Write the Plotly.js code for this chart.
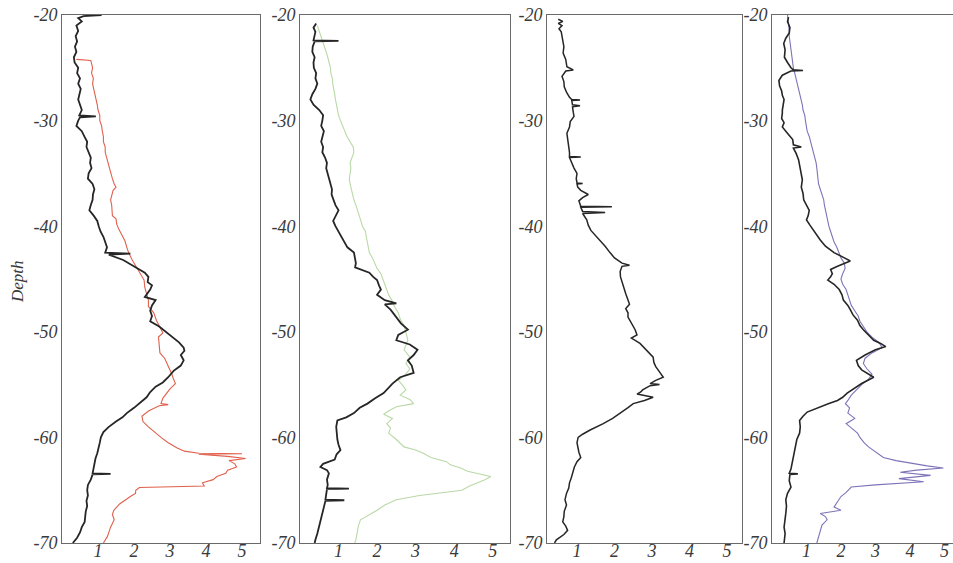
<!DOCTYPE html>
<html>
<head>
<meta charset="utf-8">
<script src="https://cdn.plot.ly/plotly-3.0.1.min.js"></script>
<style>html,body{margin:0;padding:0;background:#fff;}#chart{width:953px;height:563px;}</style>
</head>
<body>
<div id="chart"></div>
<script>
// ---- Data: [depth, value] pairs ----
const depthTicks = [-20, -30, -40, -50, -60, -70];
const depthTickLabels = ["-20", "-30", "-40", "-50", "-60", "-70"];
const xTicks = [1, 2, 3, 4, 5];
const xTickLabels = ["1", "2", "3", "4", "5"];
const yTitle = "Depth";

const p1Black = [[-20.0,1.1],[-20.1,0.6],[-20.3,0.45],[-20.6,0.55],[-21,0.4],[-21.5,0.45],[-22,0.38],[-22.5,0.42],[-23,0.36],[-23.5,0.4],[-24,0.33],[-24.5,0.35],[-25,0.45],[-25.5,0.42],[-26,0.5],[-26.5,0.45],[-27,0.52],[-27.5,0.48],[-28,0.45],[-28.5,0.5],[-29,0.55],[-29.5,0.48],[-29.6,0.94],[-29.7,0.5],[-30,0.45],[-30.5,0.4],[-31,0.55],[-31.5,0.62],[-32,0.7],[-32.5,0.68],[-33,0.75],[-33.5,0.8],[-34,0.78],[-34.5,0.82],[-35,0.74],[-35.5,0.72],[-36,0.85],[-36.5,0.9],[-37,0.86],[-37.5,0.85],[-38,0.8],[-38.5,0.76],[-39,0.88],[-39.5,0.98],[-40,1.02],[-40.5,1.07],[-41,1.15],[-41.5,1.2],[-42,1.25],[-42.5,1.2],[-42.6,1.9],[-42.7,1.3],[-43.2,1.7],[-43.6,1.9],[-44,2.1],[-44.4,2.3],[-44.8,2.4],[-45.3,2.38],[-45.6,2.5],[-46,2.45],[-46.7,2.3],[-47,2.6],[-47.5,2.5],[-48,2.45],[-48.5,2.5],[-49,2.45],[-49.5,2.7],[-50,2.88],[-50.5,3.05],[-51,3.25],[-51.5,3.38],[-51.8,3.4],[-52.2,3.3],[-52.7,3.38],[-53.2,3.3],[-53.7,3.1],[-54.3,2.95],[-54.8,2.8],[-55.2,2.6],[-55.7,2.45],[-56.2,2.35],[-56.8,2.15],[-57.2,2.0],[-57.7,1.8],[-58.1,1.68],[-58.5,1.5],[-59,1.3],[-59.5,1.15],[-60,1.08],[-60.5,1.05],[-61,1.02],[-61.5,0.98],[-62,0.93],[-62.5,0.9],[-63,0.87],[-63.4,0.85],[-63.45,1.35],[-63.5,0.85],[-64,0.8],[-64.5,0.72],[-65,0.7],[-65.5,0.72],[-66,0.68],[-66.5,0.7],[-67,0.66],[-67.5,0.65],[-68,0.63],[-68.5,0.55],[-69,0.5],[-69.5,0.42],[-70,0.3]];

const p1Red = [[-24.2,0.4],[-24.3,0.8],[-25,0.85],[-25.5,0.82],[-26,0.87],[-26.5,0.85],[-27,0.88],[-27.5,0.92],[-28,0.95],[-28.5,0.98],[-29,1.0],[-29.5,1.05],[-30,1.05],[-30.5,1.1],[-31,1.12],[-31.5,1.15],[-32,1.15],[-32.5,1.2],[-33,1.2],[-33.5,1.25],[-34,1.28],[-34.5,1.32],[-35,1.35],[-35.5,1.4],[-36,1.45],[-36.3,1.5],[-36.6,1.42],[-37,1.38],[-37.5,1.35],[-38,1.38],[-38.5,1.38],[-39,1.4],[-39.3,1.5],[-39.8,1.52],[-40.3,1.58],[-40.8,1.65],[-41.4,1.75],[-42,1.8],[-42.5,1.85],[-43.2,1.95],[-43.8,2.05],[-44.4,2.15],[-45.1,2.28],[-45.8,2.3],[-46.5,2.35],[-47,2.4],[-47.6,2.4],[-48.2,2.55],[-48.9,2.62],[-49.5,2.72],[-50.1,2.8],[-50.5,2.68],[-51,2.7],[-51.5,2.72],[-52,2.72],[-52.5,2.85],[-53,2.92],[-53.5,2.98],[-54,3.05],[-54.5,3.1],[-54.9,3.15],[-55.4,3.0],[-55.8,2.9],[-56.3,2.8],[-56.8,2.75],[-56.9,2.95],[-57,2.7],[-57.5,2.4],[-58,2.22],[-58.5,2.25],[-59,2.4],[-59.6,2.6],[-60,2.75],[-60.5,2.95],[-61,3.2],[-61.3,3.4],[-61.5,3.8],[-61.55,5.0],[-61.6,3.8],[-61.8,4.6],[-62,5.1],[-62.2,4.64],[-62.5,4.8],[-62.8,4.85],[-63.1,4.6],[-63.4,4.55],[-63.7,4.3],[-64,4.2],[-64.3,3.9],[-64.6,3.95],[-64.75,2.15],[-65,2.05],[-65.3,2.04],[-65.6,1.9],[-65.9,1.77],[-66.3,1.6],[-66.9,1.44],[-67.3,1.4],[-67.8,1.45],[-68.2,1.38],[-68.5,1.35],[-69,1.3],[-69.4,1.26],[-70,1.15]];

const p2Black = [[-20.8,0.42],[-21.2,0.35],[-21.6,0.4],[-22,0.38],[-22.4,0.35],[-22.45,1.0],[-22.5,0.38],[-23,0.33],[-23.5,0.32],[-24,0.38],[-24.5,0.35],[-25,0.36],[-25.5,0.42],[-26,0.4],[-26.5,0.45],[-27,0.4],[-27.5,0.32],[-28,0.27],[-28.5,0.35],[-29,0.5],[-29.5,0.6],[-30,0.58],[-30.5,0.55],[-31,0.62],[-31.5,0.58],[-32,0.55],[-32.5,0.6],[-33,0.58],[-33.5,0.65],[-34,0.7],[-34.5,0.68],[-35,0.72],[-35.5,0.75],[-36,0.8],[-36.5,0.83],[-37,0.82],[-37.5,0.86],[-38,0.92],[-38.5,1.0],[-39,0.92],[-39.5,0.86],[-40,0.92],[-40.5,1.0],[-41,1.08],[-41.5,1.15],[-42,1.23],[-42.5,1.4],[-43,1.42],[-43.5,1.45],[-43.9,1.43],[-44.4,1.8],[-44.8,1.9],[-45.1,2.0],[-45.6,2.05],[-46,2.1],[-46.5,2.0],[-47,2.2],[-47.3,2.5],[-47.4,2.2],[-47.9,2.35],[-48.6,2.5],[-49.2,2.62],[-49.8,2.8],[-50.3,2.55],[-50.8,2.5],[-51.2,2.85],[-51.7,3.05],[-52.2,2.95],[-52.7,2.8],[-53.2,2.9],[-53.9,2.95],[-54.3,2.6],[-54.9,2.4],[-55.3,2.3],[-55.8,2.17],[-56.3,1.95],[-56.8,1.75],[-57.2,1.55],[-57.7,1.4],[-58.1,1.2],[-58.4,0.97],[-59,0.94],[-59.6,0.95],[-60.2,0.97],[-60.7,1.0],[-61.2,1.05],[-61.6,0.95],[-62.1,0.9],[-62.5,0.6],[-62.8,0.53],[-63.1,0.7],[-63.4,0.75],[-64,0.7],[-64.5,0.72],[-64.8,0.7],[-64.85,1.27],[-64.9,0.7],[-65.4,0.68],[-65.9,0.66],[-65.95,1.15],[-66,0.66],[-66.6,0.62],[-67.2,0.58],[-67.8,0.55],[-68.5,0.5],[-69.1,0.45],[-69.7,0.4],[-70,0.38]];

const p2Green = [[-21,0.45],[-21.5,0.5],[-22,0.55],[-22.5,0.6],[-23,0.63],[-23.5,0.68],[-24,0.72],[-24.5,0.75],[-25,0.79],[-25.5,0.8],[-26,0.84],[-26.5,0.85],[-27,0.88],[-27.5,0.9],[-28,0.92],[-28.5,0.95],[-29,0.97],[-29.5,1.0],[-30,1.05],[-30.5,1.1],[-31,1.15],[-31.5,1.22],[-32,1.3],[-32.5,1.38],[-33,1.4],[-33.5,1.35],[-34,1.3],[-34.5,1.32],[-35,1.3],[-35.5,1.28],[-36,1.3],[-36.5,1.33],[-37,1.38],[-37.5,1.4],[-38,1.45],[-38.5,1.5],[-39,1.55],[-39.5,1.58],[-40,1.62],[-40.5,1.7],[-41,1.72],[-41.5,1.75],[-42,1.78],[-42.5,1.8],[-43,1.88],[-43.5,1.95],[-44,2.0],[-44.5,2.1],[-45,2.15],[-45.5,2.2],[-46,2.25],[-46.5,2.3],[-47,2.38],[-47.6,2.45],[-48.2,2.55],[-48.8,2.6],[-49.4,2.7],[-50,2.75],[-50.8,2.8],[-51.7,2.7],[-52.4,2.85],[-53,2.75],[-53.5,2.85],[-54,2.75],[-54.6,2.55],[-55,2.65],[-55.5,2.75],[-56,2.6],[-56.4,2.85],[-56.8,2.95],[-57.1,2.5],[-57.5,2.3],[-57.8,2.17],[-58.2,2.4],[-58.7,2.25],[-59.1,2.35],[-59.6,2.3],[-60.2,2.5],[-60.6,2.6],[-60.9,2.7],[-61.2,3.0],[-61.5,3.2],[-61.9,3.4],[-62.3,3.8],[-62.6,3.9],[-62.9,4.17],[-63.2,4.35],[-63.4,4.6],[-63.7,4.95],[-64,4.8],[-64.3,4.6],[-64.6,4.4],[-65,4.2],[-65.3,3.6],[-65.5,3.1],[-65.9,2.5],[-66.4,2.2],[-66.9,2.0],[-67.3,1.8],[-67.8,1.57],[-68.3,1.52],[-68.8,1.5],[-69.3,1.48],[-69.7,1.45],[-70,1.42]];

const p3Black = [[-20.4,0.5],[-20.6,0.62],[-20.8,0.5],[-21.0,0.6],[-21.3,0.52],[-21.6,0.58],[-22,0.6],[-22.4,0.62],[-23,0.65],[-23.6,0.63],[-24.2,0.7],[-24.9,0.73],[-25.2,0.9],[-25.3,0.7],[-25.8,0.6],[-26.3,0.65],[-26.8,0.66],[-27.3,0.72],[-27.8,0.8],[-28,0.86],[-28.05,1.08],[-28.1,0.86],[-28.5,0.88],[-28.6,1.08],[-28.7,0.88],[-29.2,0.9],[-29.6,0.92],[-30.1,0.82],[-30.6,0.8],[-31.2,0.73],[-31.8,0.76],[-32.5,0.78],[-33,0.8],[-33.4,0.8],[-33.45,1.1],[-33.5,0.8],[-34,0.85],[-34.5,0.92],[-35,1.0],[-35.5,0.98],[-35.9,1.0],[-35.95,1.15],[-36,1.0],[-36.3,1.02],[-36.6,1.1],[-37,1.3],[-37.3,1.15],[-37.6,1.05],[-38.1,1.1],[-38.15,1.93],[-38.2,1.1],[-38.6,1.15],[-38.7,1.75],[-38.8,1.15],[-39.4,1.26],[-39.9,1.3],[-40.4,1.37],[-40.9,1.5],[-41.3,1.6],[-41.9,1.75],[-42.5,1.88],[-43,2.0],[-43.5,2.2],[-43.7,2.4],[-43.8,2.2],[-44.3,2.15],[-44.8,2.16],[-45.3,2.2],[-45.8,2.25],[-46.4,2.3],[-47,2.36],[-47.4,2.4],[-47.8,2.3],[-48.2,2.36],[-48.6,2.36],[-49.2,2.45],[-49.8,2.55],[-50.3,2.6],[-50.6,2.45],[-51.1,2.68],[-51.7,2.85],[-52.1,2.95],[-52.4,3.03],[-52.9,3.05],[-53.3,3.1],[-53.8,3.2],[-54.3,3.3],[-54.6,3.1],[-54.9,2.95],[-55.0,3.2],[-55.1,2.95],[-55.5,2.75],[-55.7,2.7],[-55.9,2.6],[-56.1,2.85],[-56.2,3.03],[-56.5,2.8],[-56.8,2.5],[-57.2,2.35],[-57.7,2.15],[-58.2,1.95],[-58.7,1.7],[-59,1.5],[-59.3,1.35],[-59.7,1.15],[-60,1.03],[-60.5,1.0],[-60.9,1.02],[-61.4,1.05],[-61.9,1.1],[-62.3,1.0],[-62.8,0.93],[-63.3,0.9],[-63.8,0.85],[-64.3,0.8],[-64.8,0.78],[-65.3,0.72],[-65.9,0.68],[-66.4,0.72],[-67,0.66],[-67.5,0.65],[-68,0.62],[-68.4,0.7],[-68.8,0.75],[-69.2,0.65],[-69.7,0.45],[-70,0.4]];

const p4Black = [[-20.2,0.48],[-20.6,0.45],[-21.2,0.52],[-21.7,0.5],[-22.2,0.4],[-22.7,0.34],[-23.3,0.38],[-24,0.36],[-24.5,0.45],[-25,0.55],[-25.2,0.62],[-25.25,0.9],[-25.3,0.55],[-25.7,0.3],[-26.2,0.2],[-26.7,0.22],[-27.2,0.28],[-27.6,0.3],[-28,0.35],[-28.5,0.32],[-29,0.3],[-29.3,0.3],[-29.8,0.28],[-30.2,0.35],[-30.6,0.3],[-31,0.4],[-31.4,0.5],[-31.8,0.6],[-32.3,0.62],[-32.5,0.85],[-32.6,0.62],[-33.1,0.7],[-33.7,0.77],[-34.3,0.8],[-35,0.85],[-35.6,0.88],[-36.3,0.85],[-36.9,0.9],[-37.5,0.92],[-38,1.0],[-38.5,1.08],[-39,1.05],[-39.4,1.0],[-39.9,1.1],[-40.4,1.2],[-40.9,1.3],[-41.3,1.4],[-41.9,1.55],[-42.5,1.8],[-43,2.1],[-43.3,2.27],[-43.8,1.9],[-44.1,1.7],[-44.5,1.75],[-44.8,1.7],[-45.1,1.62],[-45.5,1.8],[-46,1.95],[-46.5,2.03],[-47,2.07],[-47.5,2.2],[-47.9,2.27],[-48.4,2.35],[-48.9,2.48],[-49.4,2.55],[-49.8,2.65],[-50.3,2.8],[-50.8,2.95],[-51.1,3.15],[-51.4,3.3],[-51.7,3.0],[-52.2,2.7],[-52.7,2.45],[-53.2,2.5],[-53.6,2.6],[-54,2.8],[-54.3,2.95],[-54.9,2.6],[-55.4,2.35],[-55.8,2.18],[-56.2,2.05],[-56.5,1.9],[-56.8,1.65],[-57.1,1.4],[-57.6,1.02],[-58,0.9],[-58.4,0.8],[-59,0.82],[-59.6,0.8],[-60.2,0.72],[-60.9,0.68],[-61.6,0.65],[-62.4,0.6],[-63,0.55],[-63.4,0.5],[-63.45,0.75],[-63.5,0.52],[-64.1,0.5],[-64.7,0.55],[-65.3,0.45],[-65.9,0.4],[-66.5,0.42],[-67.2,0.4],[-67.8,0.38],[-68.5,0.35],[-69.1,0.38],[-69.7,0.36],[-70,0.35]];

const p4Blue = [[-20,0.45],[-20.5,0.47],[-21,0.48],[-21.5,0.5],[-22,0.5],[-22.5,0.52],[-23,0.55],[-23.5,0.55],[-24,0.58],[-24.5,0.6],[-25,0.62],[-25.5,0.66],[-26,0.7],[-26.5,0.74],[-27,0.78],[-27.5,0.8],[-28,0.85],[-28.5,0.88],[-29,0.9],[-29.5,0.95],[-30,0.97],[-30.5,1.0],[-31,1.02],[-31.5,1.08],[-32,1.12],[-32.5,1.18],[-33,1.22],[-33.5,1.25],[-34,1.28],[-34.5,1.3],[-35,1.32],[-35.5,1.35],[-36,1.35],[-36.5,1.4],[-37,1.45],[-37.5,1.5],[-38,1.52],[-38.5,1.55],[-39,1.6],[-39.5,1.62],[-40,1.65],[-40.5,1.7],[-41,1.75],[-41.5,1.8],[-42,1.88],[-42.5,1.95],[-43,2.0],[-43.5,2.1],[-44,2.12],[-44.5,2.05],[-45,2.0],[-45.5,2.05],[-46,2.15],[-46.5,2.2],[-47,2.25],[-47.5,2.3],[-48,2.4],[-48.5,2.5],[-49,2.55],[-49.5,2.65],[-50,2.75],[-50.5,2.9],[-51,3.1],[-51.5,3.2],[-52,2.9],[-52.5,2.7],[-53,2.65],[-53.5,2.75],[-54,2.9],[-54.5,2.8],[-55,2.6],[-55.5,2.45],[-56,2.3],[-56.5,2.2],[-56.8,2.13],[-57.2,2.25],[-57.7,2.2],[-58.2,2.4],[-58.7,2.15],[-59.1,2.3],[-59.6,2.48],[-60,2.55],[-60.5,2.67],[-60.9,2.8],[-61.2,2.93],[-61.6,3.1],[-61.9,3.23],[-62.2,3.6],[-62.4,3.92],[-62.7,4.5],[-62.9,4.97],[-63.1,4.2],[-63.3,3.72],[-63.6,4.6],[-63.9,3.68],[-64.2,4.4],[-64.5,3.0],[-64.7,2.3],[-65.2,2.15],[-65.6,2.0],[-66.1,1.9],[-66.6,1.8],[-66.9,2.0],[-67.2,1.4],[-67.5,1.55],[-67.8,1.6],[-68.3,1.45],[-68.8,1.4],[-69.3,1.35],[-69.8,1.3],[-70,1.3]];

// ---- Styling ----
const BLACK = '#262626';
const serif = '"Liberation Serif", "DejaVu Serif", serif';
const tickFont = {family: serif, size: 18, color: '#3a3a3a', style: 'italic'};

function trace(pairs, color, width, axisIdx) {
  const sfx = axisIdx === 1 ? '' : String(axisIdx);
  return {
    x: pairs.map(p => p[1]),
    y: pairs.map(p => p[0]),
    mode: 'lines',
    type: 'scatter',
    line: {color: color, width: width},
    xaxis: 'x' + sfx,
    yaxis: 'y' + sfx,
    hoverinfo: 'skip',
    showlegend: false
  };
}

const data = [
  trace(p1Red, '#e0604c', 1.1, 1),
  trace(p1Black, BLACK, 1.8, 1),
  trace(p2Green, '#b9d9a6', 1.1, 2),
  trace(p2Black, BLACK, 1.8, 2),
  trace(p3Black, BLACK, 1.5, 3),
  trace(p4Blue, '#7d74b8', 1.1, 4),
  trace(p4Black, BLACK, 1.6, 4)
];

const W = 953, H = 563;
const panels = [
  {l: 62, r: 260, range: [0, 5.5], mirror: true},
  {l: 300, r: 510, range: [0, 5.45], mirror: true},
  {l: 547, r: 742, range: [0.2, 5.4], mirror: true},
  {l: 772, r: 953, range: [0, 5.25], mirror: false}
];
const yDom = [1 - 543 / H, 1 - 15 / H];

const layout = {
  width: W, height: H,
  margin: {l: 0, r: 0, t: 0, b: 0},
  paper_bgcolor: '#ffffff',
  plot_bgcolor: '#ffffff',
  showlegend: false,
  annotations: [{
    text: yTitle, xref: 'paper', yref: 'paper', x: 17 / W, y: 1 - 282 / H,
    xanchor: 'center', yanchor: 'middle',
    textangle: -90, showarrow: false,
    font: {family: serif, size: 17, color: '#3a3a3a', style: 'italic'}
  }]
};

panels.forEach((p, i) => {
  const sfx = i === 0 ? '' : String(i + 1);
  layout['xaxis' + sfx] = {
    domain: [p.l / W, Math.min(1, p.r / W)],
    range: p.range,
    anchor: 'y' + sfx,
    tickvals: xTicks, ticktext: xTickLabels,
    ticks: '', tickfont: tickFont, ticklabelstandoff: -9,
    showgrid: false, zeroline: false,
    showline: true, linecolor: '#6a6a6a', linewidth: 1, mirror: true,
    fixedrange: true
  };
  layout['yaxis' + sfx] = {
    domain: yDom,
    range: [-70, -20],
    anchor: 'x' + sfx,
    tickvals: depthTicks, ticktext: depthTickLabels,
    ticks: '', tickfont: tickFont,
    showgrid: false, zeroline: false,
    showline: true, linecolor: '#6a6a6a', linewidth: 1, mirror: p.mirror,
    fixedrange: true
  };
});

Plotly.newPlot('chart', data, layout, {staticPlot: true, displayModeBar: false});
</script>
</body>
</html>
